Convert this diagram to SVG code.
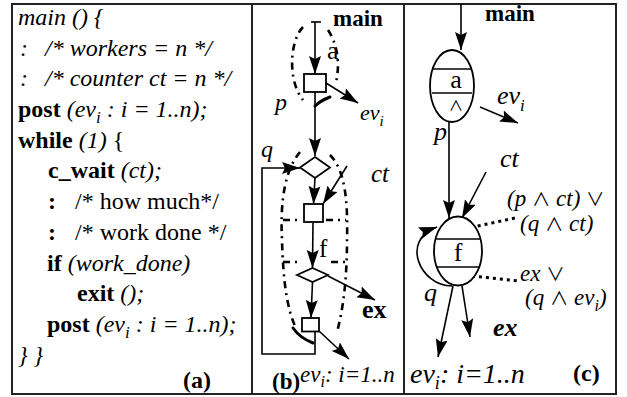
<svg xmlns="http://www.w3.org/2000/svg" width="627" height="397" viewBox="0 0 627 397" font-family="'Liberation Serif', 'Times New Roman', Times, serif">
<defs>
<style>
text{font-family:'Liberation Serif','Times New Roman',Times,serif;fill:#000;}
.t{font-size:24px;}
.it{font-style:italic;}
.b{font-weight:bold;}
.op{font-family:'Noto Sans CJK JP','DejaVu Sans',sans-serif;font-style:normal;font-weight:normal;font-size:0.8em;}
.ln{stroke:#000;stroke-width:1.6;fill:none;}
.bx{stroke:#000;stroke-width:1.8;fill:#fff;}
.dd{stroke:#000;stroke-width:2.6;fill:none;stroke-dasharray:7 5 2 5;}
.dt{stroke:#000;stroke-width:3;fill:none;stroke-dasharray:3 4;}
.th{stroke:#000;stroke-width:3;fill:none;stroke-linecap:round;}
.fr{stroke:#222;stroke-width:2;fill:none;}
</style>
<marker id="ah" markerUnits="userSpaceOnUse" markerWidth="20" markerHeight="14" refX="18" refY="6" orient="auto">
<path d="M0,0 L18,6 L0,12 L3,6 z" fill="#000"/>
</marker>
</defs>
<rect x="0" y="0" width="627" height="397" fill="#fff"/>
<g id="frame">
<rect class="fr" x="12" y="4" width="604" height="390"/>
<line class="fr" x1="252" y1="4" x2="252" y2="394"/>
<line class="fr" x1="404" y1="4" x2="404" y2="394"/>
</g>
<g id="code" class="t">
<text x="18" y="25" class="it">main () {</text>
<text x="20" y="56" class="it">:</text><text x="45" y="56" class="it">/* workers = n */</text>
<text x="20" y="86" class="it">:</text><text x="45" y="86" class="it">/* counter ct = n */</text>
<text x="18" y="117"><tspan class="b">post</tspan><tspan class="it"> (ev</tspan><tspan class="it" font-size="17" dy="6">i</tspan><tspan class="it" dy="-6"> : i = 1..n);</tspan></text>
<text x="18" y="148"><tspan class="b">while</tspan><tspan class="it"> (1) </tspan><tspan>{</tspan></text>
<text x="48" y="178"><tspan class="b">c_wait</tspan><tspan class="it"> (ct);</tspan></text>
<text x="48" y="209" class="b">:</text><text x="75" y="209">/* how much*/</text>
<text x="48" y="240" class="b">:</text><text x="75" y="240">/* work done */</text>
<text x="47" y="271"><tspan class="b">if</tspan><tspan class="it"> (work_done)</tspan></text>
<text x="77" y="301"><tspan class="b">exit</tspan><tspan class="it"> ();</tspan></text>
<text x="47" y="332"><tspan class="b">post</tspan><tspan class="it"> (ev</tspan><tspan class="it" font-size="17" dy="6">i</tspan><tspan class="it" dy="-6"> : i = 1..n);</tspan></text>
<text x="18" y="363" class="it">} }</text>
<text x="183" y="388" class="b">(a)</text>
</g>
<g id="connectors">
<line class="ln" x1="315" y1="22" x2="315" y2="74" marker-end="url(#ah)"/>
<line class="ln" x1="311" y1="22" x2="321" y2="22"/>
<line class="ln" x1="326" y1="83" x2="358" y2="103" marker-end="url(#ah)"/>
<line class="ln" x1="315" y1="92" x2="315" y2="156" marker-end="url(#ah)"/>
<polyline class="ln" points="315,332 315,354 262,354 262,168 300,168" marker-end="url(#ah)"/>
<line class="ln" x1="315" y1="178" x2="313.5" y2="204" marker-end="url(#ah)"/>
<line class="ln" x1="347" y1="166" x2="323" y2="204" marker-end="url(#ah)"/>
<line class="ln" x1="313" y1="222" x2="312.5" y2="268" marker-end="url(#ah)"/>
<line class="ln" x1="328" y1="276" x2="375" y2="300" marker-end="url(#ah)"/>
<line class="ln" x1="312.5" y1="282" x2="311" y2="318" marker-end="url(#ah)"/>
<line class="ln" x1="319" y1="331" x2="349" y2="359" marker-end="url(#ah)"/>
<path class="dd" d="M303,27 C290,40 287,80 303,100"/>
<path class="dd" d="M328,30 C338,45 340,65 336,82"/>
<path class="dd" d="M300,152 C285,170 280,200 282,240 C283,280 287,310 296,328"/>
<path class="dd" d="M330,155 C345,170 348,200 347,240 C347,280 343,310 337,332"/>
<path class="dd" d="M283,220 H297 M326,220 H346"/>
<path class="dd" d="M283,262 H297 M331,262 H346"/>
<path class="th" d="M315,106 Q320,101 330,97"/>
<path class="th" d="M293,328 Q300,338 313,343"/>
<line class="ln" x1="461" y1="4" x2="461" y2="50" marker-end="url(#ah)"/>
<line class="ln" x1="480" y1="107" x2="518" y2="123" marker-end="url(#ah)"/>
<line class="ln" x1="449" y1="122" x2="449" y2="218" marker-end="url(#ah)"/>
<line class="ln" x1="486" y1="172" x2="462" y2="218" marker-end="url(#ah)"/>
<path class="ln" d="M452,286 C420,286 400,240 437,227" marker-end="url(#ah)"/>
<line class="ln" x1="453" y1="286" x2="438" y2="357" marker-end="url(#ah)"/>
<line class="ln" x1="462" y1="286" x2="470" y2="337" marker-end="url(#ah)"/>
<line class="dt" x1="464" y1="229" x2="515" y2="218"/>
<line class="dt" x1="472" y1="276" x2="518" y2="281"/>
</g>
<g id="b-box1"><rect class="bx" x="304" y="74" width="22" height="18"/></g>
<g id="b-diamond1"><polygon class="bx" points="315,157 330,167.5 315,178 300,167.5"/></g>
<g id="b-box2"><rect class="bx" x="304" y="204" width="19" height="18"/></g>
<g id="b-diamond2"><polygon class="bx" points="312.5,268 328,275 312.5,282 297,275"/></g>
<g id="b-box3"><rect class="bx" x="302" y="318" width="17" height="13.5"/></g>
<g id="b-labels">
<text x="333" y="26" class="b" font-size="23">main</text>
<text x="327" y="59" font-size="26">a</text>
<text x="275" y="110" class="it" font-size="24">p</text>
<text x="360" y="120" class="it" font-size="22">ev<tspan font-size="15" dy="6">i</tspan></text>
<text x="261" y="157" class="it" font-size="24">q</text>
<text x="371" y="182" class="it" font-size="25">ct</text>
<text x="319" y="257" font-size="25">f</text>
<text x="362" y="318" class="b" font-size="26">ex</text>
<text x="272" y="389" class="b" font-size="23">(b)</text>
<text x="300" y="382" class="it" font-size="23">ev<tspan font-size="16" dy="5">i</tspan><tspan dy="-5">: i=1..n</tspan></text>
</g>
<g id="c-node-a">
<ellipse class="bx" cx="452" cy="86" rx="22" ry="36"/>
<line class="ln" x1="432" y1="69" x2="472" y2="69"/>
<line class="ln" x1="432" y1="93" x2="472" y2="93"/>
<text x="456" y="88" font-size="26" text-anchor="middle">a</text>
<text x="456" y="111" font-size="18" text-anchor="middle"><tspan class="op" font-size="18">∧</tspan></text>
</g>
<g id="c-node-f">
<ellipse class="bx" cx="458" cy="251" rx="24" ry="34.5"/>
<line class="ln" x1="436" y1="239" x2="480" y2="239"/>
<line class="ln" x1="436" y1="267" x2="480" y2="267"/>
<text x="458" y="261" font-size="26" text-anchor="middle">f</text>
</g>
<g id="c-labels">
<text x="485" y="21" class="b" font-size="23">main</text>
<text x="497" y="104" class="it" font-size="26">ev<tspan font-size="17" dy="7">i</tspan></text>
<text x="434" y="140" class="it" font-size="26">p</text>
<text x="500" y="167" class="it" font-size="26">ct</text>
<text x="507" y="206" class="it" font-size="23">(p <tspan class="op">∧</tspan> ct) <tspan class="op">∨</tspan></text>
<text x="520" y="231" class="it" font-size="23">(q <tspan class="op">∧</tspan> ct)</text>
<text x="520" y="281" class="it" font-size="23">ex <tspan class="op">∨</tspan></text>
<text x="525" y="305" class="it" font-size="23">(q <tspan class="op">∧</tspan> ev<tspan font-size="16" dy="6">i</tspan><tspan dy="-6">)</tspan></text>
<text x="424" y="301" class="it" font-size="26">q</text>
<text x="493" y="336" class="b it" font-size="26">ex</text>
<text x="410" y="383" class="it" font-size="28">ev<tspan font-size="18" dy="6">i</tspan><tspan dy="-6">: i=1..n</tspan></text>
<text x="573" y="381" class="b" font-size="24">(c)</text>
</g>
</svg>
